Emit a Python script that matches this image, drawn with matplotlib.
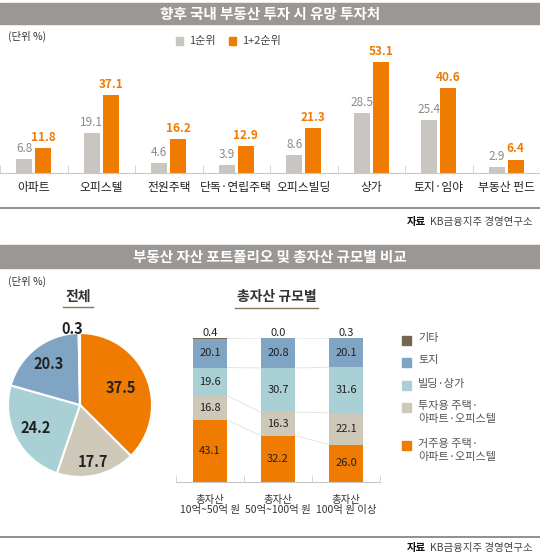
import numpy as np
import matplotlib
matplotlib.use("Agg")
import matplotlib.pyplot as plt
from matplotlib.patches import Rectangle
from matplotlib.lines import Line2D

plt.rcParams['font.family'] = ['Noto Sans CJK KR', 'DejaVu Sans']

# ---- data ----
top_title = "향후 국내 부동산 투자 시 유망 투자처"
categories = ["아파트", "오피스텔", "전원주택", "단독·연립주택", "오피스빌딩", "상가", "토지·임야", "부동산 펀드"]
rank1 = [6.8, 19.1, 4.6, 3.9, 8.6, 28.5, 25.4, 2.9]
rank12 = [11.8, 37.1, 16.2, 12.9, 21.3, 53.1, 40.6, 6.4]
series_names = ["1순위", "1+2순위"]

bottom_title = "부동산 자산 포트폴리오 및 총자산 규모별 비교"
pie_labels = ["거주용 주택·\n아파트·오피스텔", "투자용 주택·\n아파트·오피스텔", "빌딩·상가", "토지", "기타"]
pie_values = [37.5, 17.7, 24.2, 20.3, 0.3]

size_groups = ["총자산\n10억~50억 원", "총자산\n50억~100억 원", "총자산\n100억 원 이상"]
stack_values = {
    "거주용": [43.1, 32.2, 26.0],
    "투자용": [16.8, 16.3, 22.1],
    "빌딩·상가": [19.6, 30.7, 31.6],
    "토지": [20.1, 20.8, 20.1],
    "기타": [0.4, 0.0, 0.3],
}
source = "KB금융지주 경영연구소"

# ---- colors ----
GRAY_BAR = "#c9c6c1"
ORANGE = "#ef7b00"
BANNER = "#9a9794"
seg_colors = ["#ef7b00", "#cdc8b8", "#a9d0d4", "#7fa4c4", "#76664f"]

W, H = 540, 554
fig = plt.figure(figsize=(W / 100, H / 100), dpi=100)


def px_axes(x0, y0, x1, y1):
    return fig.add_axes([x0 / W, 1 - y1 / H, (x1 - x0) / W, (y1 - y0) / H])


def fy(y):
    return 1 - y / H


def banner(y0, y1, text):
    fig.patches.append(Rectangle((0, fy(y1)), 1, (y1 - y0) / H, transform=fig.transFigure,
                                 color=BANNER, zorder=0))
    fig.text(0.5, fy((y0 + y1) / 2), text, color="white", fontsize=10.5, fontweight="bold",
             ha="center", va="center")


def hline(y, x0=0, x1=W, color="#8f8f8f", lw=1.4):
    fig.add_artist(Line2D([x0 / W, x1 / W], [fy(y), fy(y)], transform=fig.transFigure,
                          color=color, lw=lw))


def source_note(y):
    t = fig.text(533 / W, fy(y), source, fontsize=7.5, color="#444444", ha="right", va="center")
    r = fig.canvas.get_renderer()
    bb = t.get_window_extent(r)
    fig.text((bb.x0 - 4) / W, fy(y), "자료", fontsize=7.5, fontweight="bold", color="#111111",
             ha="right", va="center")


# ================= top section =================
banner(3, 24, top_title)
fig.text(8 / W, fy(36), "(단위 %)", fontsize=7.5, color="#333333", va="center")

# legend
fig.patches.append(Rectangle((176 / W, fy(45)), 7 / W, 8 / H, transform=fig.transFigure, color=GRAY_BAR))
fig.text(189 / W, fy(41), series_names[0], fontsize=8, color="#444444", va="center")
fig.patches.append(Rectangle((229 / W, fy(45)), 7 / W, 8 / H, transform=fig.transFigure, color=ORANGE))
fig.text(242 / W, fy(41), series_names[1], fontsize=8, color="#444444", va="center")

ax = px_axes(0, 43, 540, 173)
x = np.arange(len(categories))
w = 0.24
off = 0.14
ax.bar(x - off, rank1, w, color=GRAY_BAR)
ax.bar(x + off, rank12, w, color=ORANGE)
for xi, v in zip(x, rank1):
    ax.annotate(f"{v:.1f}", (xi - off, v), xytext=(0, 3), textcoords="offset points",
                ha="center", va="bottom", fontsize=8.5, color="#8a8a8a")
for xi, v in zip(x, rank12):
    ax.annotate(f"{v:.1f}", (xi + off, v), xytext=(0, 3), textcoords="offset points",
                ha="center", va="bottom", fontsize=8.5, color=ORANGE, fontweight="bold")
ax.set_xlim(-0.5, len(categories) - 0.5)
ax.set_ylim(0, 53.1 * 130 / 111)
for s in ["top", "left", "right"]:
    ax.spines[s].set_visible(False)
ax.spines["bottom"].set_color("#c8c8c8")
ax.set_yticks([])
ax.set_xticks(x)
ax.set_xticklabels(categories, fontsize=8.5, color="#222222")
ax.tick_params(axis="x", length=0, pad=6)
ax.set_xticks(np.arange(len(categories) + 1) - 0.5, minor=True)
ax.tick_params(axis="x", which="minor", direction="in", length=6, color="#d0d0d0")
ax.patch.set_alpha(0)

hline(208)
source_note(222)

# ================= bottom section =================
banner(245, 268, bottom_title)
fig.text(8 / W, fy(281), "(단위 %)", fontsize=7.5, color="#333333", va="center")

# pie
fig.text(78 / W, fy(297), "전체", fontsize=10, fontweight="bold", color="#333333", ha="center", va="center")
hline(307, 63, 93, color="#8b7355", lw=1)
pax = px_axes(8, 333, 152, 477)
wedges, _ = pax.pie(pie_values, colors=seg_colors, startangle=90, counterclock=False,
                    wedgeprops=dict(edgecolor="white", linewidth=1.5))
pax.set_xlim(-1, 1)
pax.set_ylim(-1, 1)
pax.set_aspect("equal")
label_r = [0.62, 0.82, 0.7, 0.72]
for wdg, v, r in zip(wedges[:4], pie_values[:4], label_r):
    a = np.deg2rad((wdg.theta1 + wdg.theta2) / 2)
    pax.text(r * np.cos(a), r * np.sin(a), f"{v:.1f}", ha="center", va="center",
             fontsize=10.5, fontweight="bold", color="#222222")
pax.text(-0.11, 1.05, f"{pie_values[4]:.1f}", ha="center", va="center",
         fontsize=10.5, fontweight="bold", color="#222222", clip_on=False)

# stacked bars
fig.text(277 / W, fy(297), "총자산 규모별", fontsize=10, fontweight="bold", color="#333333",
         ha="center", va="center")
hline(308, 235, 318, color="#8b7355", lw=1)
sax = px_axes(176, 338, 380, 482)
gx = np.arange(len(size_groups))
bw = 0.51
bottom = np.zeros(len(size_groups))
bounds = []
for (name, vals), c in zip(stack_values.items(), seg_colors):
    vals = np.array(vals)
    sax.bar(gx, vals, bw, bottom=bottom, color=c, zorder=2)
    if name != "기타":
        for xi, b, v in zip(gx, bottom, vals):
            sax.text(xi, b + v / 2, f"{v:.1f}", ha="center", va="center", fontsize=8, color="#222222", zorder=3)
    else:
        for xi, b, v in zip(gx, bottom, vals):
            sax.text(xi, 100, f"{v:.1f}", ha="center", va="bottom", fontsize=8, color="#222222")
    bottom = bottom + vals
    bounds.append(bottom.copy())
# faint connectors between segment boundaries
for bnd in bounds[:-1]:
    for i in range(len(gx) - 1):
        sax.plot([gx[i] + bw / 2, gx[i + 1] - bw / 2], [bnd[i], bnd[i + 1]], color="#e4e4e4", lw=0.7, zorder=1)
sax.set_xlim(-0.5, len(size_groups) - 0.5)
sax.set_ylim(0, 100)
for s in ["top", "left", "right"]:
    sax.spines[s].set_visible(False)
sax.spines["bottom"].set_color("#c8c8c8")
sax.set_yticks([])
sax.set_xticks(gx)
sax.set_xticklabels(size_groups, fontsize=7.5, color="#333333", linespacing=1.05)
sax.tick_params(axis="x", length=0, pad=9)
sax.set_xticks(np.arange(len(size_groups) + 1) - 0.5, minor=True)
sax.tick_params(axis="x", which="minor", direction="in", length=5, color="#d0d0d0")
sax.patch.set_alpha(0)

# legend (top to bottom)
leg_y = [340, 362, 385, 407, 445]
for yy, lab, c in zip(leg_y, pie_labels[::-1], seg_colors[::-1]):
    fig.patches.append(Rectangle((402 / W, fy(yy + 4.5)), 9 / W, 9 / H, transform=fig.transFigure, color=c))
    fig.text(418 / W, fy(yy - 6.5), lab, fontsize=8, color="#555555", va="top", linespacing=1.4)

hline(537)
source_note(548)

fig.savefig("out.png", dpi=100)
